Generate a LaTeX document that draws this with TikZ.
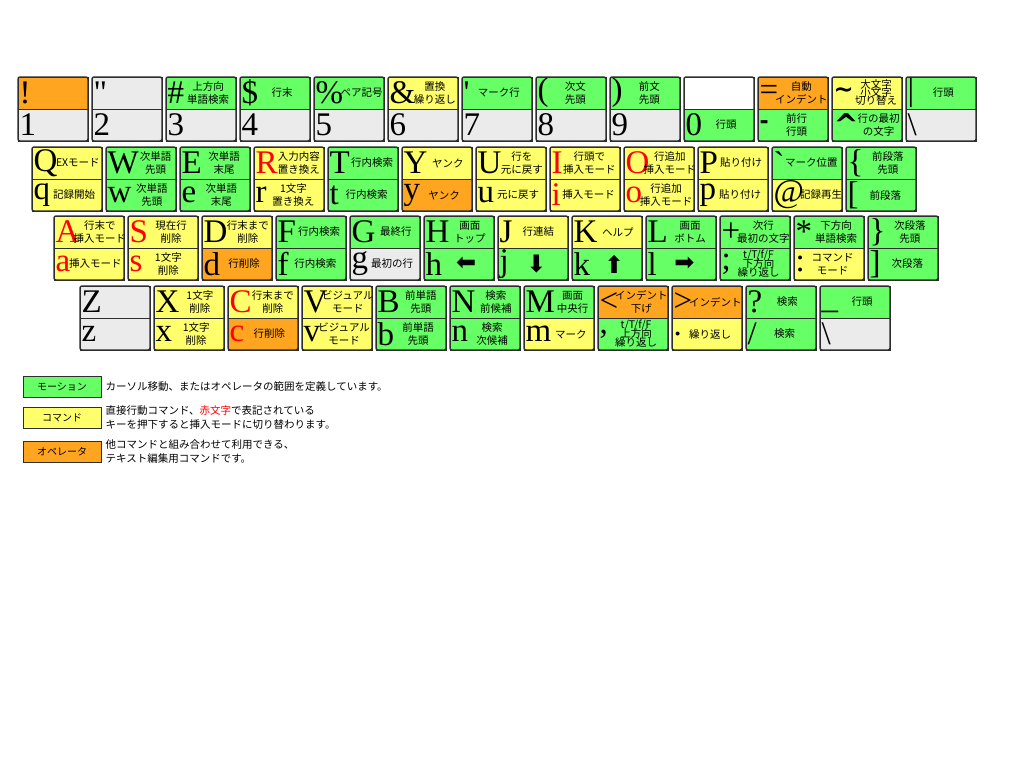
\documentclass[tikz,border=0pt]{standalone}
\usepackage{fontspec}
\usepackage{xcolor}
\usetikzlibrary{calc}
\newfontfamily\jp{Noto Sans CJK JP}
\newfontfamily\dejavu{DejaVu Sans}
\newfontfamily\keyfont{Liberation Serif}
\definecolor{motion}{HTML}{66FF66}
\definecolor{command}{HTML}{FFFF6B}
\definecolor{operator}{HTML}{FFA51F}
\definecolor{blank}{HTML}{EBEBEB}
\definecolor{rim}{HTML}{2E2E2E}
\definecolor{hot}{HTML}{FF0000}
\tikzset{
  half/.style={draw=rim,line width=0.6pt,minimum width=70pt,minimum height=32pt,inner sep=0pt,outer sep=0pt},
  glyph/.style={anchor=west,inner sep=0pt,xshift=1.5pt,font=\keyfont\fontsize{33}{33}\selectfont},
  note/.style={inner sep=0pt,xshift=-2pt,align=center,font=\jp\fontsize{10.5}{13}\selectfont},
  rim/.style={draw=rim,line width=1.4pt,rounded corners=2pt},
  legbox/.style={draw=rim,line width=0.8pt,minimum width=78pt,minimum height=21pt,inner sep=0pt,font=\jp\fontsize{10}{12}\selectfont},
  legtext/.style={anchor=west,align=left,inner sep=0pt,font=\jp\fontsize{10.5}{14}\selectfont},
}
\newcommand{\insertkey}[1]{\textcolor{hot}{#1}}
\newcommand{\arrowglyph}[1]{{\dejavu\fontsize{24}{24}\selectfont #1}}
\newcommand{\symglyph}[2][24]{{\dejavu\bfseries\fontsize{#1}{#1}\selectfont #2}}
% one half of a key: name, centre x, centre y, fill, glyph, note
\newcommand{\keyhalf}[6]{%
  \node[half,fill=#4] (#1) at (#2,#3) {};
  \node[glyph] (#1g) at (#1.west) {#5};
  \begin{scope}
    \clip (#1.north west) rectangle (#1.south east);
    \node[note] (#1n) at ($(#1g.east |- #1.center)!0.5!(#1.east)$) {#6};
  \end{scope}
}
% a key: name, left x, top y, upper fill/glyph/note, lower fill/glyph/note
\newcommand{\keycap}[9]{%
  \keyhalf{#1u}{#2+35}{#3+16}{#4}{#5}{#6}
  \keyhalf{#1l}{#2+35}{#3+48}{#7}{#8}{#9}
  \draw[rim] (#1u.north west) rectangle (#1l.south east);
}

\begin{document}
\begin{tikzpicture}[x=1pt,y=-1pt]
\useasboundingbox (0,0) rectangle (1024,768);
\fill[white] (0,0) rectangle (1024,768);

% row 1: digits
\keycap{k1}{18}{77}{operator}{!}{}{blank}{1}{}
\keycap{k2}{92}{77}{blank}{\textquotedbl}{}{blank}{2}{}
\keycap{k3}{166}{77}{motion}{\#}{上方向\\単語検索}{blank}{3}{}
\keycap{k4}{240}{77}{motion}{\$}{行末}{blank}{4}{}
\keycap{k5}{314}{77}{motion}{\%}{ペア記号}{blank}{5}{}
\keycap{k6}{388}{77}{command}{\&}{置換\\繰り返し}{blank}{6}{}
\keycap{k7}{462}{77}{motion}{\textquotesingle}{マーク行}{blank}{7}{}
\keycap{k8}{536}{77}{motion}{(}{次文\\先頭}{blank}{8}{}
\keycap{k9}{610}{77}{motion}{)}{前文\\先頭}{blank}{9}{}
\keycap{k0}{684}{77}{white}{}{}{motion}{0}{行頭}
\keycap{kminus}{758}{77}{operator}{=}{自動\\インデント}{motion}{\symglyph[22]{-}}{前行\\行頭}
\keycap{kcaret}{832}{77}{command}{\symglyph{\textasciitilde}}{大文字\\[-5pt]小文字\\[-5pt]切り替え}{motion}{\symglyph[30]{\textasciicircum}}{行の最初\\の文字}
\keycap{kbar}{906}{77}{motion}{\textbar}{行頭}{blank}{\textbackslash}{}

% row 2: q .. {
\keycap{kQ}{32}{147}{command}{Q}{EXモード}{command}{q}{記録開始}
\keycap{kW}{106}{147}{motion}{W}{次単語\\先頭}{motion}{w}{次単語\\先頭}
\keycap{kE}{180}{147}{motion}{E}{次単語\\末尾}{motion}{e}{次単語\\末尾}
\keycap{kR}{254}{147}{command}{\insertkey{R}}{入力内容\\置き換え}{command}{r}{1文字\\置き換え}
\keycap{kT}{328}{147}{motion}{T}{行内検索}{motion}{t}{行内検索}
\keycap{kY}{402}{147}{command}{Y}{ヤンク}{operator}{y}{ヤンク}
\keycap{kU}{476}{147}{command}{U}{行を\\元に戻す}{command}{u}{元に戻す}
\keycap{kI}{550}{147}{command}{\insertkey{I}}{行頭で\\挿入モード}{command}{\insertkey{i}}{挿入モード}
\keycap{kO}{624}{147}{command}{\insertkey{O}}{行追加\\挿入モード}{command}{\insertkey{o}}{行追加\\挿入モード}
\keycap{kP}{698}{147}{command}{P}{貼り付け}{command}{p}{貼り付け}
\keycap{kgrave}{772}{147}{motion}{\textasciigrave}{マーク位置}{command}{@}{記録再生}
\keycap{klbrace}{846}{147}{motion}{\{}{前段落\\先頭}{motion}{[}{前段落}

% row 3: a .. }
\keycap{kA}{54}{216}{command}{\insertkey{A}}{行末で\\挿入モード}{command}{\insertkey{a}}{挿入モード}
\keycap{kS}{128}{216}{command}{\insertkey{S}}{現在行\\削除}{command}{\insertkey{s}}{1文字\\削除}
\keycap{kD}{202}{216}{command}{D}{行末まで\\削除}{operator}{d}{行削除}
\keycap{kF}{276}{216}{motion}{F}{行内検索}{motion}{f}{行内検索}
\keycap{kG}{350}{216}{motion}{G}{最終行}{blank}{g}{最初の行}
\keycap{kH}{424}{216}{motion}{H}{画面\\トップ}{motion}{h}{\arrowglyph{⬅}}
\keycap{kJ}{498}{216}{command}{J}{行連結}{motion}{j}{\arrowglyph{⬇}}
\keycap{kK}{572}{216}{command}{K}{ヘルプ}{motion}{k}{\arrowglyph{⬆}}
\keycap{kL}{646}{216}{motion}{L}{画面\\ボトム}{motion}{l}{\arrowglyph{➡}}
\keycap{kplus}{720}{216}{motion}{+}{次行\\最初の文字}{motion}{;}{t/T/f/F\\[-4pt]下方向\\[-4pt]繰り返し}
\keycap{kstar}{794}{216}{motion}{*}{下方向\\単語検索}{command}{:}{コマンド\\モード}
\keycap{krbrace}{868}{216}{motion}{\}}{次段落\\先頭}{motion}{]}{次段落}

% row 4: z .. _
\keycap{kZ}{80}{286}{blank}{Z}{}{blank}{z}{}
\keycap{kX}{154}{286}{command}{X}{1文字\\削除}{command}{x}{1文字\\削除}
\keycap{kC}{228}{286}{command}{\insertkey{C}}{行末まで\\削除}{operator}{\insertkey{c}}{行削除}
\keycap{kV}{302}{286}{command}{V}{ビジュアル\\モード}{command}{v}{ビジュアル\\モード}
\keycap{kB}{376}{286}{motion}{B}{前単語\\先頭}{motion}{b}{前単語\\先頭}
\keycap{kN}{450}{286}{motion}{N}{検索\\前候補}{motion}{n}{検索\\次候補}
\keycap{kM}{524}{286}{motion}{M}{画面\\中央行}{command}{m}{マーク}
\keycap{kless}{598}{286}{operator}{<}{インデント\\下げ}{motion}{,}{t/T/f/F\\[-4pt]上方向\\[-4pt]繰り返し}
\keycap{kgreater}{672}{286}{operator}{>}{インデント}{command}{.}{繰り返し}
\keycap{kquery}{746}{286}{motion}{?}{検索}{motion}{/}{検索}
\keycap{kunder}{820}{286}{motion}{\_\rule{0pt}{18pt}}{行頭}{blank}{\textbackslash}{}

% legend
\node[legbox,fill=motion] (lgmotion) at (62,387) {モーション};
\node[legtext] (lgmotiontext) at ([xshift=4pt]lgmotion.east) {カーソル移動、またはオペレータの範囲を定義しています。};
\node[legbox,fill=command] (lgcommand) at (62,418) {コマンド};
\node[legtext] (lgcommandtext) at ([xshift=4pt]lgcommand.east) {直接行動コマンド、\textcolor{hot}{赤文字}で表記されている\\キーを押下すると挿入モードに切り替わります。};
\node[legbox,fill=operator] (lgoperator) at (62,452) {オペレータ};
\node[legtext] (lgoperatortext) at ([xshift=4pt]lgoperator.east) {他コマンドと組み合わせて利用できる、\\テキスト編集用コマンドです。};

\end{tikzpicture}
\end{document}
